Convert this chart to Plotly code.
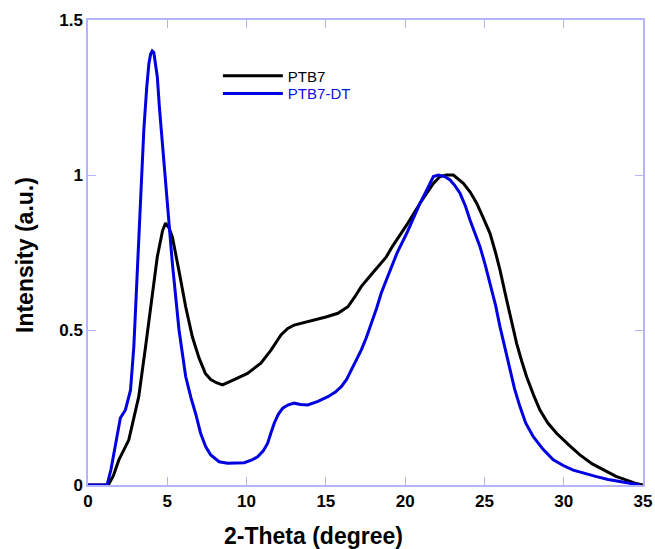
import plotly.graph_objects as go

# PTB7 (black)
ptb7_x = [0, 1.0, 1.28, 1.6, 1.94, 2.57, 3.2, 3.63, 4.05, 4.37, 4.7, 4.89, 5.1, 5.32, 5.74, 6.16,
          6.58, 7.0, 7.4, 7.74, 8.1, 8.48, 9.22, 10.06, 10.9, 11.54, 12.17, 12.6, 13.0, 14.28,
          15.0, 15.76, 16.39, 16.8, 17.23, 17.8, 18.29, 18.8, 19.2, 20.1, 20.94, 21.78, 22.2,
          22.6, 23.04, 23.3, 23.67, 24.1, 24.51, 24.9, 25.35, 25.7, 25.98, 26.4, 26.7, 27.03,
          27.35, 27.66, 28.1, 28.5, 29.0, 29.55, 30.3, 31.02, 31.8, 32.7, 33.3, 33.96, 34.5, 35]
ptb7_y = [0, 0, 0, 0.03, 0.08, 0.145, 0.285, 0.446, 0.607, 0.736, 0.82, 0.845, 0.83, 0.80, 0.69,
          0.575, 0.478, 0.41, 0.36, 0.34, 0.33, 0.323, 0.34, 0.36, 0.393, 0.435, 0.484, 0.505,
          0.516, 0.532, 0.542, 0.554, 0.575, 0.605, 0.64, 0.675, 0.704, 0.735, 0.77, 0.839,
          0.909, 0.973, 0.995, 1.0, 1.0, 0.99, 0.973, 0.945, 0.909, 0.865, 0.812, 0.75, 0.694,
          0.597, 0.53, 0.457, 0.40, 0.349, 0.29, 0.242, 0.2, 0.167, 0.13, 0.097, 0.068, 0.043,
          0.028, 0.016, 0.006, 0]

# PTB7-DT (blue)
dt_x = [0, 1.0, 1.2, 1.45, 1.73, 2.04, 2.36, 2.68, 2.89, 3.05, 3.2, 3.35, 3.52, 3.7, 3.84, 3.95,
        4.05, 4.15, 4.25, 4.37, 4.5, 4.68, 5.0, 5.32, 5.74, 6.16, 6.5, 6.79, 7.1, 7.42, 7.74,
        8.27, 8.8, 9.32, 9.85, 10.3, 10.7, 11.05, 11.33, 11.55, 11.75, 12.0, 12.28, 12.6, 13.0,
        13.4, 13.86, 14.5, 15.13, 15.6, 15.97, 16.3, 16.6, 16.9, 17.23, 17.55, 17.87, 18.2,
        18.5, 18.8, 19.13, 19.5, 20.1, 20.5, 20.94, 21.4, 21.78, 22.1, 22.5, 22.83, 23.15,
        23.46, 23.8, 24.09, 24.4, 24.72, 25.05, 25.35, 25.7, 25.98, 26.3, 26.61, 26.9, 27.24,
        27.6, 28.08, 28.7, 29.34, 30.0, 30.6, 31.3, 32.07, 32.8, 33.54, 34.2, 34.8]
dt_y = [0, 0, 0, 0.05, 0.124, 0.216, 0.242, 0.306, 0.446, 0.62, 0.82, 0.98, 1.145, 1.28, 1.36,
        1.39, 1.40, 1.395, 1.36, 1.317, 1.22, 1.113, 0.91, 0.715, 0.5, 0.35, 0.28, 0.23, 0.167,
        0.124, 0.097, 0.075, 0.07, 0.07, 0.072, 0.08, 0.091, 0.11, 0.135, 0.17, 0.2, 0.228,
        0.248, 0.258, 0.264, 0.26, 0.258, 0.27, 0.285, 0.30, 0.317, 0.34, 0.371, 0.40, 0.435,
        0.475, 0.52, 0.57, 0.62, 0.66, 0.704, 0.75, 0.812, 0.86, 0.909, 0.955, 0.995, 1.0,
        0.995, 0.984, 0.965, 0.941, 0.9, 0.855, 0.81, 0.769, 0.71, 0.651, 0.58, 0.511, 0.44,
        0.371, 0.31, 0.253, 0.2, 0.156, 0.115, 0.081, 0.062, 0.048, 0.037, 0.027, 0.018,
        0.011, 0.004, 0]

x_ticks = [0, 5, 10, 15, 20, 25, 30, 35]
y_ticks = [0, 0.5, 1, 1.5]

FONT = "Liberation Sans, Arial, sans-serif"
AXIS_COLOR = "#b4b4ff"

fig = go.Figure()
fig.add_trace(go.Scatter(x=ptb7_x, y=ptb7_y, mode="lines", name="PTB7", legend="legend",
                         line=dict(color="black", width=3)))
fig.add_trace(go.Scatter(x=dt_x, y=dt_y, mode="lines", legend="legend2",
                         name='<span style="color:#1010e0">PTB7-DT</span>',
                         line=dict(color="#0000e0", width=3)))

leg_common = dict(xanchor="left", yanchor="top", bgcolor="rgba(0,0,0,0)",
                  font=dict(family=FONT, size=15, color="black"), itemwidth=60)

fig.update_layout(
    width=655, height=549,
    margin=dict(l=88, r=12, t=20, b=64, autoexpand=False),
    paper_bgcolor="white", plot_bgcolor="white",
    showlegend=True,
    legend=dict(x=0.234, y=0.915, **leg_common),
    legend2=dict(x=0.234, y=0.877, **leg_common),
    xaxis=dict(range=[0, 35], tickvals=x_ticks, ticks="inside", ticklen=8, tickcolor=AXIS_COLOR,
               showline=True, linecolor=AXIS_COLOR, linewidth=1.5, mirror="ticks",
               showgrid=False, zeroline=False, automargin=False,
               tickfont=dict(family=FONT, size=17, color="black", weight="bold")),
    yaxis=dict(range=[0, 1.5], tickvals=y_ticks, ticks="inside", ticklen=8, tickcolor=AXIS_COLOR,
               showline=True, linecolor=AXIS_COLOR, linewidth=1.5, mirror="ticks",
               showgrid=False, zeroline=False, automargin=False,
               tickfont=dict(family=FONT, size=17, color="black", weight="bold")),
    annotations=[
        dict(text="<b>2-Theta (degree)</b>", xref="paper", yref="paper",
             x=(313 - 88) / 555, y=(485 - 536) / 465, xanchor="center", yanchor="middle",
             showarrow=False, font=dict(family=FONT, size=23, color="black")),
        dict(text="<b>Intensity (a.u.)</b>", xref="paper", yref="paper",
             x=(25 - 88) / 555, y=(485 - 255) / 465, xanchor="center", yanchor="middle",
             showarrow=False, textangle=-90, font=dict(family=FONT, size=23, color="black")),
    ],
)

fig.write_html("out.html", config={"displayModeBar": False},
               post_script="document.body.style.margin='0';document.body.style.overflow='hidden';")
